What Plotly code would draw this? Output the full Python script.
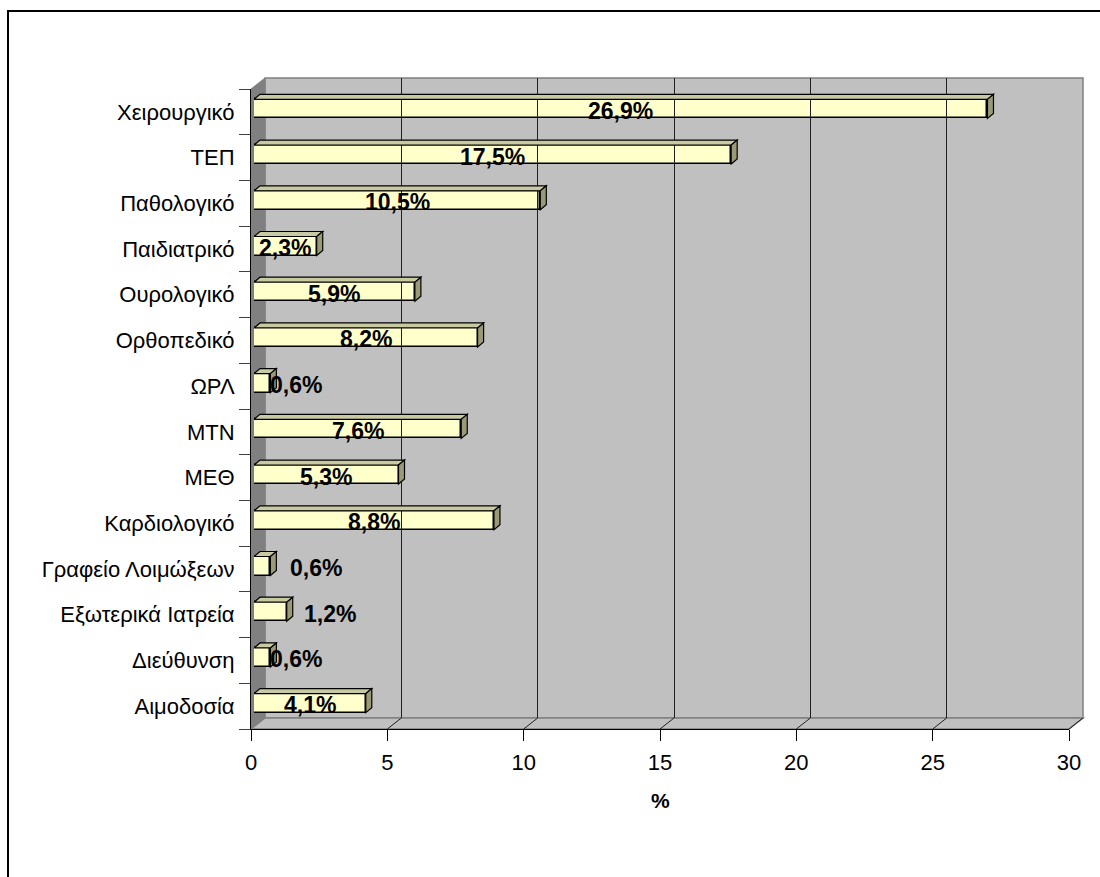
import plotly.graph_objects as go

# Departments (bottom to top) and their share in %
departments = [
    "Αιμοδοσία", "Διεύθυνση", "Εξωτερικά Ιατρεία", "Γραφείο Λοιμώξεων",
    "Καρδιολογικό", "ΜΕΘ", "ΜΤΝ", "ΩΡΛ", "Ορθοπεδικό", "Ουρολογικό",
    "Παιδιατρικό", "Παθολογικό", "ΤΕΠ", "Χειρουργικό",
]
shares = [4.1, 0.6, 1.2, 0.6, 8.8, 5.3, 7.6, 0.6, 8.2, 5.9, 2.3, 10.5, 17.5, 26.9]
x_ticks = [0, 5, 10, 15, 20, 25, 30]

# label nudges (px) for bars too short to hold their label
label_nudge = {"ΩΡΛ": 34, "Διεύθυνση": 34, "Γραφείο Λοιμώξεων": 54, "Εξωτερικά Ιατρεία": 60}

W, H = 1100, 877
FONT = "Arial, Liberation Sans, sans-serif"

# front plane of the axes in pixels
PX0, PX1 = 251, 1069
PY_TOP, PY_BOT = 89, 729
# depth of the 3-D box and of the bars
WALL_DX, WALL_DY = 14, 11
BAR_OFF = 3
BAR_DX, BAR_DY = 6, 5
BAR_HALF = 9.5
XMAX = 30
PPX = (PX1 - PX0) / XMAX
N = len(departments)
PPY = (PY_BOT - PY_TOP) / N


def fx(px):
    return px / W


def fy(py):
    return 1 - py / H


idx = list(range(N))

fig = go.Figure()

# front face of the bars
fig.add_trace(go.Bar(
    x=shares, y=idx, orientation="h", xaxis="x2", yaxis="y2",
    width=(2 * BAR_HALF) / PPY,
    marker=dict(color="#FFFFCC", line=dict(color="black", width=1.5)),
    hoverinfo="skip",
))
fig.add_trace(go.Scatter(x=[], y=[], xaxis="x", yaxis="y", showlegend=False))
fig.add_trace(go.Scatter(x=[], y=[], xaxis="x3", yaxis="y3", showlegend=False))

shapes = []
# outer chart frame
shapes.append(dict(type="rect", xref="paper", yref="paper",
                   x0=fx(8), y0=fy(11), x1=fx(1120), y1=fy(900),
                   line=dict(color="black", width=2), fillcolor="white", layer="below"))
# back wall
shapes.append(dict(type="rect", xref="paper", yref="paper",
                   x0=fx(PX0 + WALL_DX), x1=fx(PX1 + WALL_DX),
                   y0=fy(PY_BOT - WALL_DY), y1=fy(PY_TOP - WALL_DY),
                   fillcolor="#C0C0C0", line=dict(color="#808080", width=1.5), layer="below"))
# left wall
shapes.append(dict(type="path", xref="paper", yref="paper",
                   path=(f"M{fx(PX0)},{fy(PY_TOP)} L{fx(PX0 + WALL_DX)},{fy(PY_TOP - WALL_DY)} "
                         f"L{fx(PX0 + WALL_DX)},{fy(PY_BOT - WALL_DY)} L{fx(PX0)},{fy(PY_BOT)} Z"),
                   fillcolor="#808080", line=dict(color="#808080", width=1), layer="below"))
# floor
shapes.append(dict(type="path", xref="paper", yref="paper",
                   path=(f"M{fx(PX0)},{fy(PY_BOT)} L{fx(PX0 + WALL_DX)},{fy(PY_BOT - WALL_DY)} "
                         f"L{fx(PX1 + WALL_DX)},{fy(PY_BOT - WALL_DY)} L{fx(PX1)},{fy(PY_BOT)} Z"),
                   fillcolor="#C0C0C0", line=dict(color="#808080", width=1.5), layer="below"))
# gridlines running across the floor
for t in x_ticks[1:]:
    xp = PX0 + t * PPX
    shapes.append(dict(type="line", xref="paper", yref="paper",
                       x0=fx(xp), y0=fy(PY_BOT), x1=fx(xp + WALL_DX), y1=fy(PY_BOT - WALL_DY),
                       line=dict(color="#202020", width=1), layer="below"))

# top and side faces of each bar
dxd = BAR_DX / PPX
h = BAR_HALF
for i, v in zip(idx, shares):
    shapes.append(dict(type="path", xref="x2", yref="y2", ysizemode="pixel", yanchor=i,
                       path=f"M0,{h} L{dxd},{h + BAR_DY} L{v + dxd},{h + BAR_DY} L{v},{h} Z",
                       fillcolor="#CACAA2", line=dict(color="black", width=1.2)))
    shapes.append(dict(type="path", xref="x2", yref="y2", xsizemode="pixel", ysizemode="pixel",
                       xanchor=v, yanchor=i,
                       path=f"M0,{-h} L{BAR_DX},{-h + BAR_DY} L{BAR_DX},{h + BAR_DY} L0,{h} Z",
                       fillcolor="#9A9A78", line=dict(color="black", width=1.2)))

annotations = []
for name, i, v in zip(departments, idx, shares):
    annotations.append(dict(
        x=v / 2, y=i, xref="x2", yref="y2", showarrow=False,
        text=f"{v:.1f}%".replace(".", ","), xshift=label_nudge.get(name, 0), yshift=-2,
        font=dict(family=FONT, size=23, color="black", weight="bold"),
    ))
annotations.append(dict(x=fx(660), y=fy(814), xref="paper", yref="paper", showarrow=False,
                        text="<b>%</b>", font=dict(family=FONT, size=21, color="black")))

fig.update_layout(
    width=W, height=H,
    margin=dict(l=0, r=0, t=0, b=0),
    paper_bgcolor="white", plot_bgcolor="rgba(0,0,0,0)",
    showlegend=False, bargap=0,
    font=dict(family=FONT, size=22, color="black"),
    xaxis=dict(domain=[fx(PX0), fx(PX1)], range=[0, XMAX], anchor="y",
               tickvals=x_ticks, ticks="outside", ticklen=11, tickcolor="black",
               ticklabelstandoff=3,
               showline=True, linecolor="black", linewidth=1, showgrid=False, zeroline=False,
               tickfont=dict(size=22), automargin=False, fixedrange=True),
    yaxis=dict(domain=[fy(PY_BOT), fy(PY_TOP)], range=[-0.5, N - 0.5], anchor="x",
               tickvals=idx, ticktext=departments, ticks="outside", ticklen=11,
               tickcolor="rgba(0,0,0,0)",
               minor=dict(tickvals=[i - 0.5 for i in range(N + 1)], ticks="outside",
                          ticklen=11, tickcolor="#404040", showgrid=False),
               showline=True, linecolor="black", linewidth=1, showgrid=False, zeroline=False,
               tickfont=dict(size=22), automargin=False, fixedrange=True),
    xaxis2=dict(domain=[fx(PX0 + BAR_OFF), fx(PX1 + BAR_OFF)], range=[0, XMAX], anchor="y2",
                visible=False, fixedrange=True),
    yaxis2=dict(domain=[fy(PY_BOT - BAR_OFF), fy(PY_TOP - BAR_OFF)], range=[-0.5, N - 0.5],
                anchor="x2", visible=False, fixedrange=True),
    # back-wall plane: its gridlines are the vertical lines on the wall
    xaxis3=dict(domain=[fx(PX0 + WALL_DX), fx(PX1 + WALL_DX)], range=[0, XMAX], anchor="y3",
                tickvals=x_ticks[1:-1], showticklabels=False, ticks="", showline=False,
                showgrid=True, gridcolor="#202020", gridwidth=1, zeroline=False, fixedrange=True),
    yaxis3=dict(domain=[fy(PY_BOT - WALL_DY), fy(PY_TOP - WALL_DY)], range=[0, 1], anchor="x3",
                showticklabels=False, showgrid=False, zeroline=False, showline=False,
                ticks="", fixedrange=True),
    shapes=shapes,
    annotations=annotations,
)

fig.write_html("out.html")
